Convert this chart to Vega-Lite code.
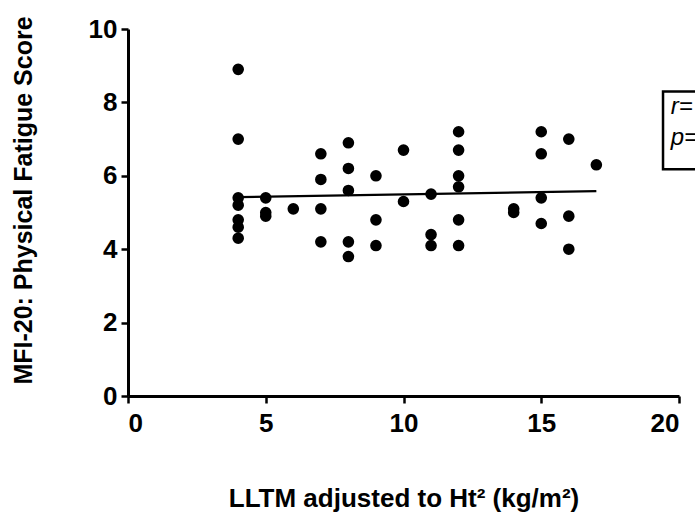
{
  "$schema": "https://vega.github.io/schema/vega-lite/v6.json",
  "width": 551,
  "height": 367,
  "autosize": {"type": "none"},
  "padding": {"left": 128, "top": 29, "right": 16, "bottom": 122},
  "background": "white",
  "config": {
    "view": {"stroke": null},
    "font": "Liberation Sans",
    "axis": {
      "domainColor": "black",
      "domainWidth": 3,
      "tickColor": "black",
      "tickWidth": 2.5,
      "tickSize": 7,
      "grid": false,
      "labelFont": "Liberation Sans",
      "labelFontWeight": "bold",
      "labelFontSize": 26,
      "labelColor": "black",
      "titleFont": "Liberation Sans",
      "titleFontWeight": "bold",
      "titleColor": "black"
    }
  },
  "datasets": {
    "pts": [
      {"x": 4, "y": 8.9}, {"x": 4, "y": 7.0}, {"x": 4, "y": 5.4}, {"x": 4, "y": 5.2}, {"x": 4, "y": 4.8}, {"x": 4, "y": 4.6}, {"x": 4, "y": 4.3},
      {"x": 5, "y": 5.4}, {"x": 5, "y": 5.0}, {"x": 5, "y": 4.9},
      {"x": 6, "y": 5.1},
      {"x": 7, "y": 6.6}, {"x": 7, "y": 5.9}, {"x": 7, "y": 5.1}, {"x": 7, "y": 4.2},
      {"x": 8, "y": 6.9}, {"x": 8, "y": 6.2}, {"x": 8, "y": 5.6}, {"x": 8, "y": 4.2}, {"x": 8, "y": 3.8},
      {"x": 9, "y": 6.0}, {"x": 9, "y": 4.8}, {"x": 9, "y": 4.1},
      {"x": 10, "y": 6.7}, {"x": 10, "y": 5.3},
      {"x": 11, "y": 5.5}, {"x": 11, "y": 4.4}, {"x": 11, "y": 4.1},
      {"x": 12, "y": 7.2}, {"x": 12, "y": 6.7}, {"x": 12, "y": 6.0}, {"x": 12, "y": 5.7}, {"x": 12, "y": 4.8}, {"x": 12, "y": 4.1},
      {"x": 14, "y": 5.1}, {"x": 14, "y": 5.0},
      {"x": 15, "y": 7.2}, {"x": 15, "y": 6.6}, {"x": 15, "y": 5.4}, {"x": 15, "y": 4.7},
      {"x": 16, "y": 7.0}, {"x": 16, "y": 4.9}, {"x": 16, "y": 4.0},
      {"x": 17, "y": 6.3}
    ],
    "fit": [
      {"x": 4, "y": 5.42},
      {"x": 17, "y": 5.58}
    ],
    "box": [
      {"x1": 19.42, "x2": 21.5, "y1": 6.18, "y2": 8.3}
    ],
    "stats": [
      {"x": 19.7, "y": 7.68, "label": "r="},
      {"x": 19.7, "y": 6.83, "label": "p="}
    ]
  },
  "layer": [
    {
      "data": {"name": "box"},
      "mark": {"type": "rect", "fill": "white", "stroke": "black", "strokeWidth": 2.5},
      "encoding": {
        "x": {"field": "x1", "type": "quantitative", "scale": {"domain": [0, 20], "nice": false}},
        "x2": {"field": "x2"},
        "y": {"field": "y1", "type": "quantitative", "scale": {"domain": [0, 10], "nice": false}},
        "y2": {"field": "y2"}
      }
    },
    {
      "data": {"name": "stats"},
      "mark": {"type": "text", "align": "left", "baseline": "alphabetic", "fontSize": 24, "fontStyle": "italic", "font": "Liberation Sans", "color": "black"},
      "encoding": {
        "x": {"field": "x", "type": "quantitative"},
        "y": {"field": "y", "type": "quantitative"},
        "text": {"field": "label"}
      }
    },
    {
      "data": {"name": "fit"},
      "mark": {"type": "line", "color": "black", "strokeWidth": 2.2},
      "encoding": {
        "x": {"field": "x", "type": "quantitative"},
        "y": {"field": "y", "type": "quantitative"}
      }
    },
    {
      "data": {"name": "pts"},
      "mark": {"type": "point", "filled": true, "shape": "circle", "size": 135, "color": "black", "opacity": 1},
      "encoding": {
        "x": {
          "field": "x", "type": "quantitative",
          "scale": {"domain": [0, 20], "nice": false},
          "axis": {"values": [0, 5, 10, 15, 20], "title": "LLTM adjusted to Ht² (kg/m²)", "titleFontSize": 26, "titlePadding": 49, "labelPadding": 7}
        },
        "y": {
          "field": "y", "type": "quantitative",
          "scale": {"domain": [0, 10], "nice": false},
          "axis": {"values": [0, 2, 4, 6, 8, 10], "title": "MFI-20: Physical Fatigue Score", "titleFontSize": 25, "titlePadding": 52, "titleY": 171, "labelPadding": 4}
        }
      }
    }
  ]
}
